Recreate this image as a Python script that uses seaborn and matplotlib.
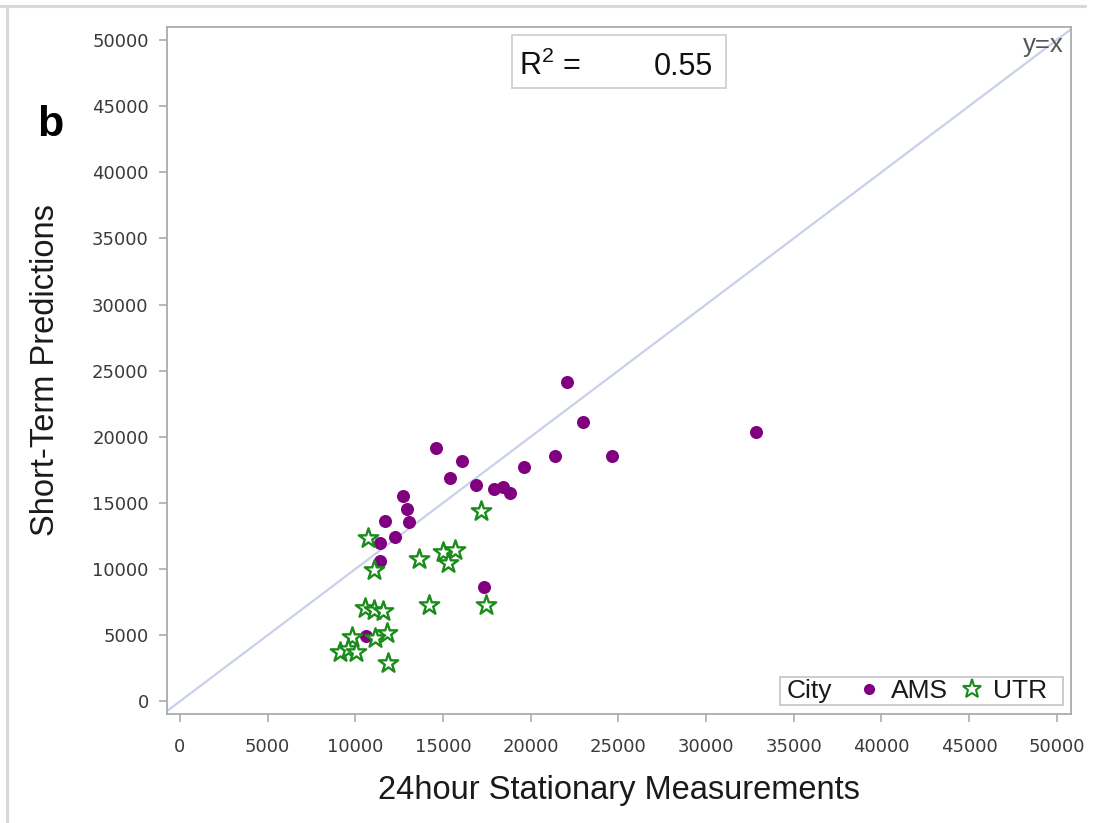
import numpy as np
import pandas as pd
import matplotlib
matplotlib.use("Agg")
import matplotlib.pyplot as plt
import seaborn as sns
from matplotlib.lines import Line2D
from matplotlib.patches import Rectangle
from matplotlib.offsetbox import HPacker, DrawingArea

# ---- data ----
ams_x = [32850, 22070, 22970, 24620, 21390, 19620, 14620, 16100, 15400, 16860, 17910,
         18440, 18840, 12740, 12960, 13040, 11680, 12280, 11390, 11390, 17360, 10590]
ams_y = [20360, 24120, 21140, 18550, 18550, 17740, 19170, 18170, 16860, 16330, 16050,
         16230, 15770, 15550, 14520, 13580, 13610, 12450, 11950, 10630, 8670, 4940]
utr_x = [17170, 10700, 11080, 13630, 15020, 15680, 15300, 14220, 17450, 10550, 11060,
         11600, 11790, 11120, 9830, 9130, 9600, 10040, 11880]
utr_y = [14410, 12370, 9930, 10760, 11310, 11440, 10480, 7280, 7280, 7030, 6900,
         6850, 5190, 4760, 4880, 3750, 3930, 3750, 2920]
cities = ["AMS", "UTR"]
ticks = [0, 5000, 10000, 15000, 20000, 25000, 30000, 35000, 40000, 45000, 50000]
r2_value = "0.55"

df = pd.DataFrame({
    "meas": ams_x + utr_x,
    "pred": ams_y + utr_y,
    "City": ["AMS"] * len(ams_x) + ["UTR"] * len(utr_x),
})

sns.set_theme(style="white")
plt.rcParams["font.family"] = ["Liberation Sans", "DejaVu Sans"]
plt.rcParams["mathtext.fontset"] = "custom"
plt.rcParams["mathtext.rm"] = "Liberation Sans"
plt.rcParams["mathtext.it"] = "Liberation Sans:italic"

W, H = 1093, 823
fig = plt.figure(figsize=(W / 100, H / 100), dpi=100)
L, R, T, B = 166.7, 1070.7, 26.7, 714.3
ax = fig.add_axes([L / W, 1 - B / H, (R - L) / W, (B - T) / H])

purple = "#800080"
green = "#1a8c1a"
axis_grey = "#a8acb0"

ax.axline((0, 0), slope=1, color="#c9d1ea", lw=1.6, zorder=1)

sns.scatterplot(data=df[df.City == "AMS"], x="meas", y="pred", ax=ax, color=purple,
                marker="o", s=88, linewidth=0, zorder=3, legend=False)
sns.scatterplot(data=df[df.City == "UTR"], x="meas", y="pred", ax=ax, color=green,
                marker="*", s=215, linewidth=1.7, zorder=4, legend=False)
stars = ax.collections[-1]
stars.set_facecolor("white")
stars.set_edgecolor(green)

ax.set_xlim(-758, 50800)
ax.set_ylim(-983, 51006)
ax.set_xticks(ticks)
ax.set_yticks(ticks)
ax.set_xticklabels([str(t) for t in ticks])
ax.set_yticklabels([str(t) for t in ticks])

for s in ax.spines.values():
    s.set_color(axis_grey)
    s.set_linewidth(1.3)
ax.tick_params(axis="both", which="major", length=6, width=1.2, color=axis_grey,
               labelsize=13, labelcolor="#3a3a3a", direction="out",
               bottom=True, left=True)
ax.tick_params(axis="x", pad=11)
ax.tick_params(axis="y", pad=7)
for lab in ax.get_xticklabels() + ax.get_yticklabels():
    lab.set_fontfamily(["DejaVu Sans"])

ax.set_xlabel("24hour Stationary Measurements", fontsize=23.5, color="#1a1a1a")
ax.set_ylabel("Short-Term Predictions", fontsize=23.5, color="#1a1a1a")
ax.xaxis.set_label_coords(0.5, -0.089)
ax.yaxis.set_label_coords(-0.117, 0.5)

# R^2 box
ax.add_patch(Rectangle((0.3823, 0.9104), 0.2361, 0.0775, transform=ax.transAxes,
                       facecolor="white", edgecolor="#d0d0d0", lw=1.3, zorder=5))
ax.text(0.3895, 0.9298, r"R$^{2}$ =", transform=ax.transAxes, fontsize=22,
        color="#111111", ha="left", va="baseline", zorder=6)
ax.text(0.6047, 0.9298, r2_value, transform=ax.transAxes, fontsize=22,
        color="#111111", ha="right", va="baseline", zorder=6)

# y=x label
ax.text((1064 - L) / (R - L), (B - 52) / (B - T), "y=x", transform=ax.transAxes,
        fontsize=18.5, color="#555555", ha="right", va="baseline")

# panel letter
fig.text(37 / W, 1 - 136 / H, "b", fontsize=31, fontweight="bold", color="black",
         ha="left", va="baseline")

# legend
handles = [Line2D([], [], marker="o", linestyle="", color=purple, markersize=7),
           Line2D([], [], marker="*", linestyle="", markerfacecolor="white",
                  markeredgecolor=green, markeredgewidth=1.5, markersize=14)]
leg = ax.legend(handles, cities, title="City", ncol=2, loc="lower right",
                bbox_to_anchor=(0.991, 0.0135), borderaxespad=0, fontsize=19,
                title_fontsize=19, frameon=True, fancybox=False, framealpha=1,
                edgecolor="#c8c8c8", handlelength=0.8, handletextpad=0.42,
                columnspacing=0.5, borderpad=0.1)
leg.get_frame().set_linewidth(1.3)
for t in leg.get_texts():
    t.set_color("#1a1a1a")
leg.get_title().set_color("#1a1a1a")
try:
    box = HPacker(pad=1.5, sep=0, align="center",
                  children=[DrawingArea(3.6, 1), leg._legend_title_box,
                            DrawingArea(19, 1), leg._legend_handle_box,
                            DrawingArea(9.5, 1)])
    box.set_figure(fig)
    box.axes = ax
    box.set_offset(leg._findoffset)
    leg._legend_box = box
except Exception:
    pass

# screenshot border lines
fig.add_artist(Line2D([0, 1085 / W], [1 - 6 / H, 1 - 6 / H], color="#d8d8d8", lw=2.2,
                      transform=fig.transFigure))
fig.add_artist(Line2D([7 / W, 7 / W], [0, 1 - 6 / H], color="#d8d8d8", lw=2.2,
                      transform=fig.transFigure))

fig.savefig("out.png", dpi=100)
